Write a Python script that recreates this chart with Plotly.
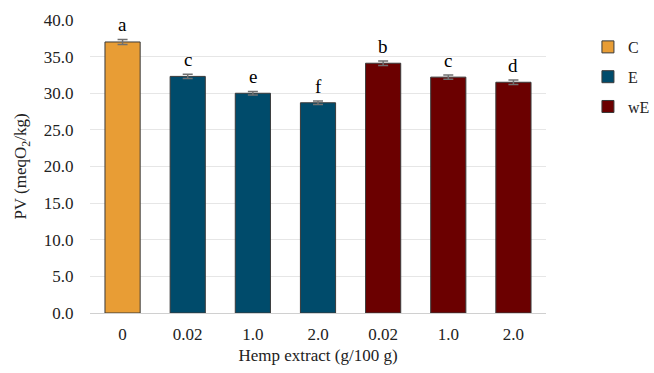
import plotly.graph_objects as go

tick_labels = ["0", "0.02", "1.0", "2.0", "0.02", "1.0", "2.0"]
groups = ["C", "E", "wE"]
group_positions = {"C": [0], "E": [1, 2, 3], "wE": [4, 5, 6]}
values = {"C": [37.0], "E": [32.3, 30.0, 28.7], "wE": [34.1, 32.2, 31.5]}
errors = {"C": [0.35], "E": [0.3, 0.25, 0.25], "wE": [0.3, 0.3, 0.3]}
letters = {"C": ["a"], "E": ["c", "e", "f"], "wE": ["b", "c", "d"]}
colors = {"C": "#E89D35", "E": "#004B6B", "wE": "#6B0000"}

SERIF = "Liberation Serif, Times New Roman, serif"

fig = go.Figure()
for g in groups:
    fig.add_trace(go.Bar(
        x=group_positions[g], y=values[g], name=g,
        legendgroup=g,
        marker=dict(color=colors[g], line=dict(color="#3a3a3a", width=1)),
        width=0.54,
        error_y=dict(type="data", array=errors[g], color="#707070", thickness=1.5, width=5),
    ))
    for xv, yv, ev, lt in zip(group_positions[g], values[g], errors[g], letters[g]):
        fig.add_annotation(x=xv, y=yv + ev, text=lt, showarrow=False,
                           yanchor="bottom", yshift=2,
                           font=dict(family=SERIF, size=19, color="black"))

fig.update_layout(
    width=654, height=373,
    margin=dict(l=90, r=108, t=20, b=60),
    plot_bgcolor="white", paper_bgcolor="white",
    font=dict(family=SERIF, size=17, color="#222"),
    bargap=0.46,
    showlegend=True,
    legend=dict(xref="container", yref="container", x=0.899, y=0.9196,
                xanchor="left", yanchor="top",
                font=dict(family=SERIF, size=16, color="#222"),
                tracegroupgap=6, traceorder="grouped"),
    xaxis=dict(tickmode="array", tickvals=list(range(7)), ticktext=tick_labels,
               range=[-0.5, 6.5], showline=True, linecolor="#d0d0d0", linewidth=1,
               ticks="", showgrid=False, automargin=False, ticklabelstandoff=6,
               tickfont=dict(family=SERIF, size=17, color="#222"),
               title=dict(text="Hemp extract (g/100 g)", font=dict(family=SERIF, size=17), standoff=5)),
    yaxis=dict(range=[0, 40], dtick=5, tickformat=".1f", showgrid=True,
               gridcolor="#e6e6e6", gridwidth=1, zeroline=False,
               ticks="outside", ticklen=12, tickcolor="rgba(0,0,0,0)",
               automargin=False,
               tickfont=dict(family=SERIF, size=17, color="#222"),
               title=dict(text="PV (meqO<sub>2</sub>/kg)", font=dict(family=SERIF, size=17), standoff=12)),
)

fig.write_html("out.html",
               config={"displayModeBar": False},
               post_script="document.body.style.margin='0px';document.body.style.overflow='hidden';")
